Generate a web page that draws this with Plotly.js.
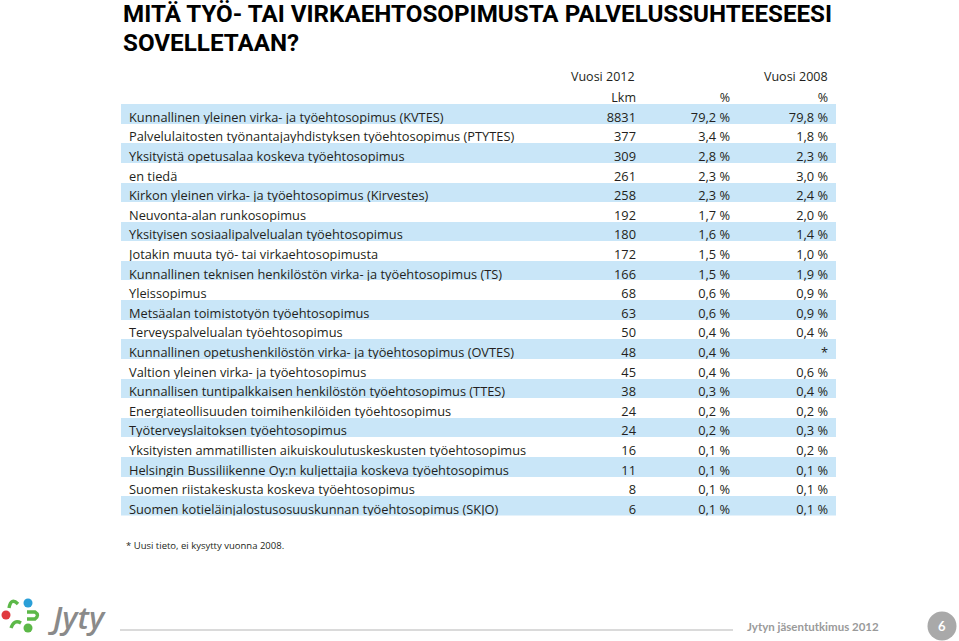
<!DOCTYPE html>
<html>
<head>
<meta charset="utf-8">
<script src="https://cdn.plot.ly/plotly-3.0.1.min.js"></script>
<style>html,body{margin:0;padding:0;background:#fff;}#chart{width:959px;height:641px;}</style>
</head>
<body>
<div id="chart"></div>
<script>
const categories = [
  "Kunnallinen yleinen virka- ja työehtosopimus (KVTES)",
  "Palvelulaitosten työnantajayhdistyksen työehtosopimus (PTYTES)",
  "Yksityistä opetusalaa koskeva työehtosopimus",
  "en tiedä",
  "Kirkon yleinen virka- ja työehtosopimus (Kirvestes)",
  "Neuvonta-alan runkosopimus",
  "Yksityisen sosiaalipalvelualan työehtosopimus",
  "Jotakin muuta työ- tai virkaehtosopimusta",
  "Kunnallinen teknisen henkilöstön virka- ja työehtosopimus (TS)",
  "Yleissopimus",
  "Metsäalan toimistotyön työehtosopimus",
  "Terveyspalvelualan työehtosopimus",
  "Kunnallinen opetushenkilöstön virka- ja työehtosopimus (OVTES)",
  "Valtion yleinen virka- ja työehtosopimus",
  "Kunnallisen tuntipalkkaisen henkilöstön työehtosopimus (TTES)",
  "Energiateollisuuden toimihenkilöiden työehtosopimus",
  "Työterveyslaitoksen työehtosopimus",
  "Yksityisten ammatillisten aikuiskoulutuskeskusten työehtosopimus",
  "Helsingin Bussiliikenne Oy:n kuljettajia koskeva työehtosopimus",
  "Suomen riistakeskusta koskeva työehtosopimus",
  "Suomen kotieläinjalostusosuuskunnan työehtosopimus (SKJO)"
];
const count2012 = [8831, 377, 309, 261, 258, 192, 180, 172, 166, 68, 63, 50, 48, 45, 38, 24, 24, 16, 11, 8, 6];
const pct2012 = ["79,2 %", "3,4 %", "2,8 %", "2,3 %", "2,3 %", "1,7 %", "1,6 %", "1,5 %", "1,5 %", "0,6 %", "0,6 %", "0,4 %", "0,4 %", "0,4 %", "0,3 %", "0,2 %", "0,2 %", "0,1 %", "0,1 %", "0,1 %", "0,1 %"];
const pct2008 = ["79,8 %", "1,8 %", "2,3 %", "3,0 %", "2,4 %", "2,0 %", "1,4 %", "1,0 %", "1,9 %", "0,9 %", "0,9 %", "0,4 %", "*", "0,6 %", "0,4 %", "0,2 %", "0,3 %", "0,2 %", "0,1 %", "0,1 %", "0,1 %"];
const headerTop = ["", "Vuosi 2012", "", "Vuosi 2008"];
const headerSub = ["", "Lkm", "%", "%"];
const titleLines = ["MITÄ TYÖ- TAI VIRKAEHTOSOPIMUSTA PALVELUSSUHTEESEESI", "SOVELLETAAN?"];

const W = 959, H = 641;
const px = x => x / W;
const py = y => 1 - y / H;

const band = "#c9e6f8";
const rowFill = categories.map((_, i) => i % 2 === 0 ? band : "#ffffff");
const FONT = "'Open Sans', Lato, sans-serif";
const TXT = "#231f20";

const tableTop = 84.5, rowH = 19.6;
const nRows = categories.length + 1;

const trace = {
  type: "table",
  domain: {x: [px(121), px(836)], y: [py(tableTop + rowH * nRows), py(tableTop)]},
  columnwidth: [427, 96, 94, 98],
  header: {
    values: headerSub,
    align: ["left", "right", "right", "right"],
    height: rowH,
    fill: {color: "#ffffff"},
    line: {color: "#ffffff", width: 0},
    font: {family: FONT, size: 12.5, color: TXT}
  },
  cells: {
    values: [categories, count2012, pct2012, pct2008],
    align: ["left", "right", "right", "right"],
    height: rowH,
    fill: {color: [rowFill, rowFill, rowFill, rowFill]},
    line: {color: "#ffffff", width: 0},
    font: {family: FONT, size: 12.8, color: TXT}
  }
};

const base = {xref: "paper", yref: "paper", showarrow: false};
const titleFont = {family: "Roboto, 'Liberation Sans', sans-serif", size: 24.2, color: "#000", weight: "bold"};
const annotations = [
  Object.assign({}, base, {text: titleLines[0], x: px(121), y: py(14), xanchor: "left", yanchor: "middle", font: titleFont}),
  Object.assign({}, base, {text: titleLines[1], x: px(121), y: py(43), xanchor: "left", yanchor: "middle", font: titleFont}),
  Object.assign({}, base, {text: headerTop[1], x: px(637), y: py(76), xanchor: "right", yanchor: "middle", font: {family: FONT, size: 12.5, color: TXT}}),
  Object.assign({}, base, {text: headerTop[3], x: px(830), y: py(76), xanchor: "right", yanchor: "middle", font: {family: FONT, size: 12.5, color: TXT}}),
  Object.assign({}, base, {text: "* Uusi tieto, ei kysytty vuonna 2008.", x: px(124), y: py(545), xanchor: "left", yanchor: "middle", font: {family: FONT, size: 9.5, color: TXT}}),
  Object.assign({}, base, {text: "Jytyn jäsentutkimus 2012", x: px(745), y: py(626), xanchor: "left", yanchor: "middle", font: {family: "Lato, sans-serif", size: 11.5, color: "#9a9a9a", weight: "bold"}}),
  Object.assign({}, base, {text: "6", x: px(942), y: py(626), xanchor: "center", yanchor: "middle", font: {family: "Lato, sans-serif", size: 13, color: "#ffffff", weight: "bold"}}),
  Object.assign({}, base, {text: "<i>Jyty</i>", x: px(46), y: py(617), xanchor: "left", yanchor: "middle", font: {family: "'Open Sans', sans-serif", size: 31, color: "#8a8a8a", weight: 600}})
];

function circ(cx, cy, r, color) {
  return {type: "circle", xref: "paper", yref: "paper", x0: px(cx - r), x1: px(cx + r), y0: py(cy + r), y1: py(cy - r), fillcolor: color, line: {width: 0}};
}
function pathShape(points, color) {
  const d = points.map(p => {
    const coords = [];
    for (let i = 1; i < p.length; i += 2) coords.push(px(p[i]) + "," + py(p[i + 1]));
    return p[0] + coords.join(" ");
  }).join(" ");
  return {type: "path", xref: "paper", yref: "paper", path: d, line: {color: color, width: 3.4}};
}

const green = "#5cb848";
const shapes = [
  {type: "line", xref: "paper", yref: "paper", x0: px(120), x1: px(733), y0: py(630), y1: py(630), line: {color: "#b5b5b5", width: 1}},
  circ(942, 626, 14.5, "#a9a9a9"),
  circ(6, 615, 4.5, "#e03a3e"),
  circ(28, 603, 4.5, "#2a9fd8"),
  circ(28, 628, 4.5, green),
  pathShape([["M", 9, 608], ["Q", 11, 597, 18, 604]], green),
  pathShape([["M", 27, 612], ["L", 35, 612], ["Q", 40, 615, 35, 619], ["L", 27, 619]], green),
  pathShape([["M", 11, 628], ["Q", 14, 619, 21, 623]], green)
];

const layout = {
  width: W, height: H,
  margin: {l: 0, r: 0, t: 0, b: 0},
  paper_bgcolor: "#ffffff",
  plot_bgcolor: "#ffffff",
  showlegend: false,
  annotations: annotations,
  shapes: shapes
};

Plotly.newPlot("chart", [trace], layout, {displayModeBar: false, staticPlot: true});
</script>
</body>
</html>
